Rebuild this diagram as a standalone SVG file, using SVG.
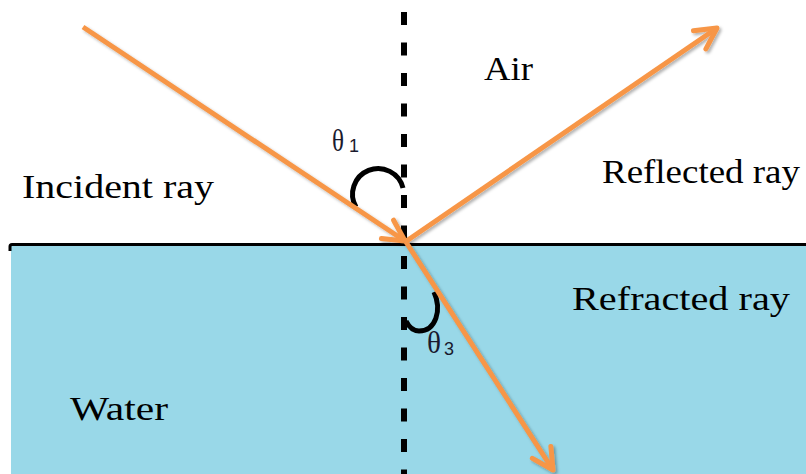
<svg xmlns="http://www.w3.org/2000/svg" width="806" height="474" viewBox="0 0 806 474">
  <defs>
    <style>
      .ray { stroke: #f79646; stroke-width: 5; fill: none; marker-end: url(#arrow); filter: url(#shadow); }
      .arc { stroke: #000; stroke-width: 5; fill: none; stroke-linecap: butt; }
      .lbl { font-family: "Liberation Serif", "Times New Roman", serif; font-size: 34px; fill: #000; }
      .theta { font-family: "Liberation Serif", "Times New Roman", serif; font-size: 31px; fill: #1a1a2e; }
      .sub { font-family: "Liberation Sans", Arial, sans-serif; font-size: 18px; fill: #1a1a2e; }
    </style>
    <marker id="arrow" markerUnits="userSpaceOnUse" markerWidth="40" markerHeight="40" viewBox="-30 -20 40 40" refX="0" refY="0" orient="auto" overflow="visible">
      <path d="M-21,-11 L0,0 L-21,11" stroke="#f79646" stroke-width="5" fill="none" stroke-linecap="round" stroke-linejoin="round"/>
    </marker>
    <filter id="shadow" x="-10%" y="-10%" width="120%" height="120%">
      <feDropShadow dx="2" dy="2" stdDeviation="1.5" flood-color="#000" flood-opacity="0.3"/>
    </filter>
  </defs>

  <rect width="806" height="474" fill="#fff"/>

  <g id="water">
    <rect x="11" y="245" width="795" height="229" fill="#99d8e8"/>
    <path d="M10,251 V246.5 Q10,244.5 12,244.5 H806" stroke="#000" stroke-width="3" fill="none"/>
  </g>

  <g id="normal">
    <line x1="404" y1="12" x2="404" y2="474" stroke="#000" stroke-width="6" stroke-dasharray="13 17.5"/>
  </g>

  <g id="angles">
    <path class="arc" d="M356,207 A25.6,25.6 0 1 1 403,188"/>
    <path class="arc" d="M434,292 C442,310 436,331 419,331 C413,331 409,327 406,321"/>
  </g>

  <g id="connectors">
    <line id="incident" class="ray" x1="83" y1="27" x2="405" y2="241"/>
    <line id="reflected" class="ray" x1="405" y1="242" x2="717" y2="28"/>
    <line id="refracted" class="ray" x1="406" y1="242" x2="553" y2="470"/>
  </g>

  <g id="label-air"><text class="lbl" x="484" y="80" textLength="49" lengthAdjust="spacingAndGlyphs">Air</text></g>
  <g id="label-incident"><text class="lbl" x="22" y="198" textLength="192" lengthAdjust="spacingAndGlyphs">Incident ray</text></g>
  <g id="label-reflected"><text class="lbl" x="602" y="183" textLength="198" lengthAdjust="spacingAndGlyphs">Reflected ray</text></g>
  <g id="label-refracted"><text class="lbl" x="572" y="310" textLength="218" lengthAdjust="spacingAndGlyphs">Refracted ray</text></g>
  <g id="label-water"><text class="lbl" x="70" y="420" textLength="98" lengthAdjust="spacingAndGlyphs">Water</text></g>

  <g id="label-theta1">
    <text class="theta" x="332" y="151" textLength="12" lengthAdjust="spacingAndGlyphs">θ</text>
    <text class="sub" x="349" y="152">1</text>
  </g>
  <g id="label-theta3">
    <text class="theta" x="427" y="353" textLength="14" lengthAdjust="spacingAndGlyphs">θ</text>
    <text class="sub" x="444" y="355">3</text>
  </g>
</svg>
